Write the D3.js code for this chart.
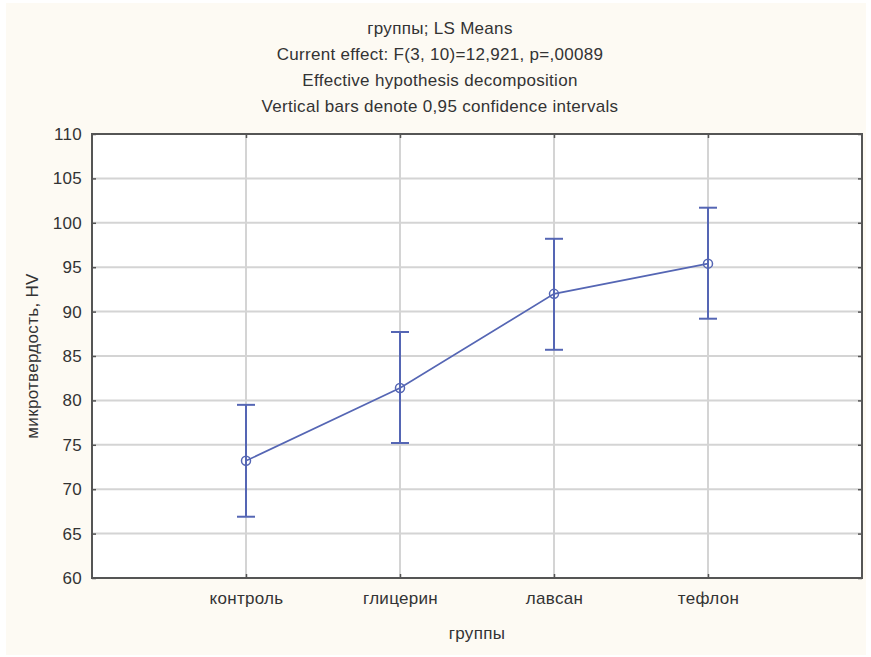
<!DOCTYPE html>
<html>
<head>
<meta charset="utf-8">
<script src="https://cdn.jsdelivr.net/npm/d3@7"></script>
<style>
  body { margin: 0; background: #ffffff; }
  text { font-family: "Liberation Sans", Arial, sans-serif; fill: #333333; letter-spacing: 0.3px; }
</style>
</head>
<body>
<div id="chart"></div>
<script>
// Chart data
const GROUPS = ["контроль", "глицерин", "лавсан", "тефлон"];
const MEANS = [73.2, 81.4, 92.0, 95.4];
const CI_LOW = [66.9, 75.2, 85.7, 89.2];
const CI_HIGH = [79.5, 87.7, 98.2, 101.7];
const Y_TICKS = [60, 65, 70, 75, 80, 85, 90, 95, 100, 105, 110];
const TITLES = ["группы; LS Means",
                "Current effect: F(3, 10)=12,921, p=,00089",
                "Effective hypothesis decomposition",
                "Vertical bars denote 0,95 confidence intervals"];

const FRAME_WIDTH = 871;
const FRAME_HEIGHT = 657;
const MARGINS = {left: 92, right: 9, top: 134, bottom: 79};
const VIS_WIDTH = FRAME_WIDTH - MARGINS.left - MARGINS.right;
const VIS_HEIGHT = FRAME_HEIGHT - MARGINS.top - MARGINS.bottom;
const LINE_COLOR = "#5566b4";
const FONT = "17px";

const svg = d3.select("#chart")
  .append("svg")
    .attr("width", FRAME_WIDTH)
    .attr("height", FRAME_HEIGHT);

// cream background panel
svg.append("rect")
  .attr("x", 6).attr("y", 3)
  .attr("width", 860).attr("height", 652)
  .attr("fill", "#fdfaf3");

// title lines
svg.selectAll(".title")
  .data(TITLES)
  .enter()
  .append("text")
    .attr("class", "title")
    .attr("x", 440)
    .attr("y", (d, i) => 34 + i * 26)
    .attr("text-anchor", "middle")
    .attr("font-size", FONT)
    .text(d => d);

// scales: categories sit at 1..4 on a 0..5 axis
const X_SCALE = d3.scaleLinear().domain([0, GROUPS.length + 1]).range([0, VIS_WIDTH]);
const Y_SCALE = d3.scaleLinear().domain([60, 110]).range([VIS_HEIGHT, 0]);

const g = svg.append("g")
  .attr("transform", "translate(" + MARGINS.left + "," + MARGINS.top + ")");

g.append("rect")
  .attr("width", VIS_WIDTH).attr("height", VIS_HEIGHT)
  .attr("fill", "#ffffff");

// grid lines
g.selectAll(".hgrid")
  .data(Y_TICKS)
  .enter()
  .append("line")
    .attr("x1", 0).attr("x2", VIS_WIDTH)
    .attr("y1", d => Y_SCALE(d)).attr("y2", d => Y_SCALE(d))
    .attr("stroke", "#d4d4d4").attr("stroke-width", 2);

g.selectAll(".vgrid")
  .data(GROUPS)
  .enter()
  .append("line")
    .attr("x1", (d, i) => X_SCALE(i + 1)).attr("x2", (d, i) => X_SCALE(i + 1))
    .attr("y1", 0).attr("y2", VIS_HEIGHT)
    .attr("stroke", "#d4d4d4").attr("stroke-width", 2);

// axes
const yAxis = g.append("g")
  .call(d3.axisLeft(Y_SCALE).tickValues(Y_TICKS).tickSize(-4).tickPadding(10));
const yAxisRight = g.append("g")
  .attr("transform", "translate(" + VIS_WIDTH + ",0)")
  .call(d3.axisRight(Y_SCALE).tickValues(Y_TICKS).tickSize(-4).tickFormat(""));
const xAxis = g.append("g")
  .attr("transform", "translate(0," + VIS_HEIGHT + ")")
  .call(d3.axisBottom(X_SCALE).tickValues([1, 2, 3, 4]).tickSize(-4).tickPadding(14)
          .tickFormat(d => GROUPS[d - 1]));
const xAxisTop = g.append("g")
  .call(d3.axisTop(X_SCALE).tickValues([1, 2, 3, 4]).tickSize(-4).tickFormat(""));

[yAxis, yAxisRight, xAxis, xAxisTop].forEach(a => {
  a.select(".domain").remove();
  a.selectAll(".tick line").attr("stroke", "#555555").attr("stroke-width", 1.5);
  a.selectAll("text").attr("font-size", FONT).attr("fill", "#333333")
    .attr("font-family", "Liberation Sans, Arial, sans-serif");
});

// frame
g.append("rect")
  .attr("width", VIS_WIDTH).attr("height", VIS_HEIGHT)
  .attr("fill", "none")
  .attr("stroke", "#555555").attr("stroke-width", 2);

// mean line
const line = d3.line()
  .x((d, i) => X_SCALE(i + 1))
  .y(d => Y_SCALE(d));

g.append("path")
  .datum(MEANS)
  .attr("d", line)
  .attr("fill", "none")
  .attr("stroke", LINE_COLOR)
  .attr("stroke-width", 1.6);

// error bars
const CAP = 9;
GROUPS.forEach((grp, i) => {
  const x = X_SCALE(i + 1);
  g.append("line")
    .attr("x1", x).attr("x2", x)
    .attr("y1", Y_SCALE(CI_LOW[i])).attr("y2", Y_SCALE(CI_HIGH[i]))
    .attr("stroke", LINE_COLOR).attr("stroke-width", 2);
  [CI_LOW[i], CI_HIGH[i]].forEach(v => {
    g.append("line")
      .attr("x1", x - CAP).attr("x2", x + CAP)
      .attr("y1", Y_SCALE(v)).attr("y2", Y_SCALE(v))
      .attr("stroke", LINE_COLOR).attr("stroke-width", 2);
  });
});

// mean markers
g.selectAll(".pt")
  .data(MEANS)
  .enter()
  .append("circle")
    .attr("cx", (d, i) => X_SCALE(i + 1))
    .attr("cy", d => Y_SCALE(d))
    .attr("r", 4.5)
    .attr("fill", "none")
    .attr("stroke", LINE_COLOR)
    .attr("stroke-width", 1.5);

// axis titles
svg.append("text")
  .attr("x", MARGINS.left + VIS_WIDTH / 2)
  .attr("y", 639)
  .attr("text-anchor", "middle")
  .attr("font-size", FONT)
  .text("группы");

svg.append("text")
  .attr("transform", "translate(38," + (MARGINS.top + VIS_HEIGHT / 2) + ") rotate(-90)")
  .attr("text-anchor", "middle")
  .attr("font-size", FONT)
  .text("микротвердость, HV");
</script>
</body>
</html>
